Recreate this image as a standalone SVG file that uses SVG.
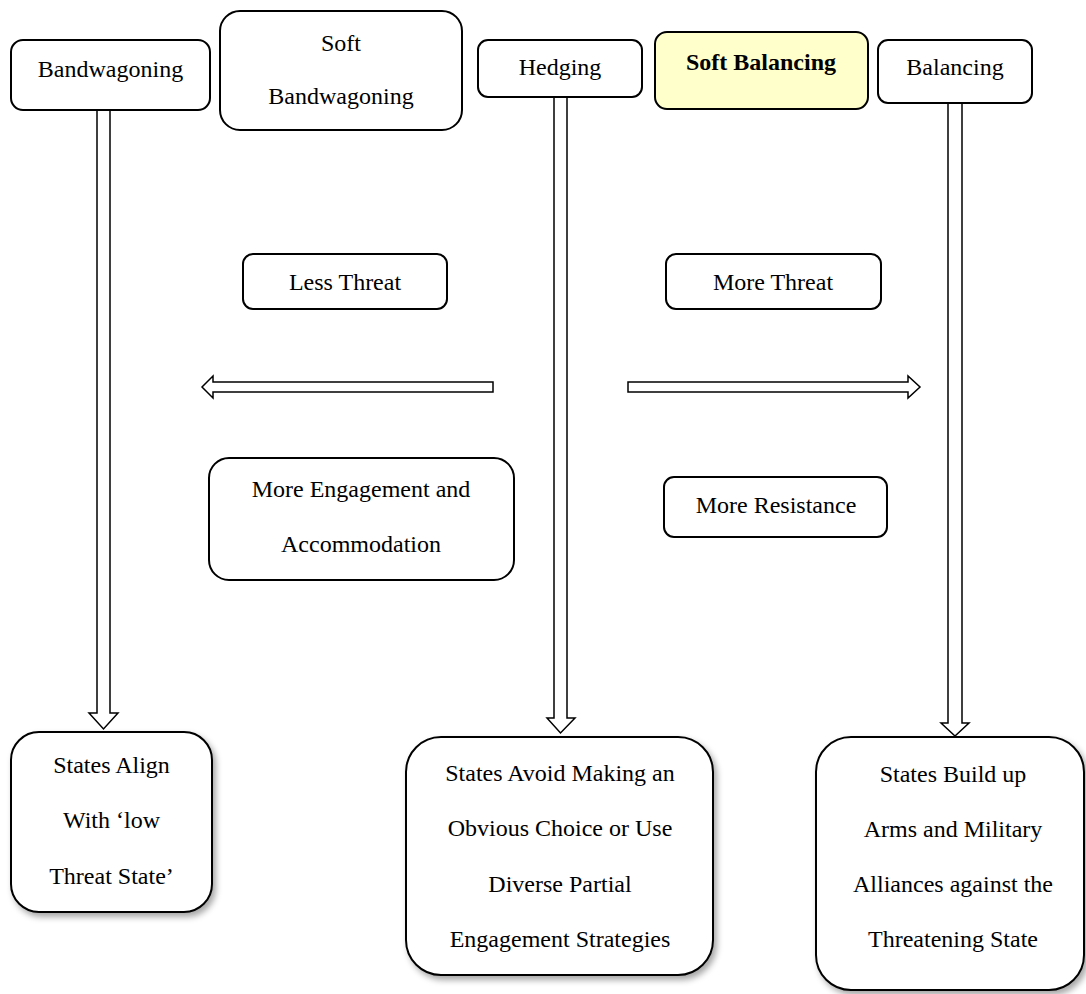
<svg xmlns="http://www.w3.org/2000/svg" width="1086" height="994" viewBox="0 0 1086 994">
<defs>
<style>
.box{fill:#ffffff;stroke:#000000;stroke-width:2}
.hl{fill:#ffffcc;stroke:#000000;stroke-width:2}
.arr{fill:#ffffff;stroke:#000000;stroke-width:1.5;stroke-linejoin:miter}
.t{font-family:"Liberation Serif","Times New Roman",serif;font-size:24px;fill:#000000;text-anchor:middle}
.b{font-weight:bold}
.sh{filter:url(#shadow)}
</style>
<filter id="shadow" x="-10%" y="-10%" width="130%" height="130%">
<feDropShadow dx="3" dy="4" stdDeviation="3" flood-color="#000000" flood-opacity="0.35"/>
</filter>
</defs>
<rect width="1086" height="994" fill="#ffffff"/>

<g id="connectors">
<polygon class="arr" points="97,110 97,713 89,713 103.5,729 118,713 110,713 110,110"/>
<polygon class="arr" points="554,97 554,718 547,718 560.5,733 575,718 567,718 567,97"/>
<polygon class="arr" points="948,103 948,723 941,723 955,736 969,723 962,723 962,103"/>
<polygon class="arr" points="493,382 213,382 213,376 202,387 213,398 213,392 493,392"/>
<polygon class="arr" points="628,382 908,382 908,376 920,387 908,398 908,392 628,392"/>
</g>

<g id="bandwagoning">
<rect class="box" x="11" y="40" width="199" height="70" rx="12"/>
<text class="t" x="110.5" y="77">Bandwagoning</text>
</g>
<g id="soft-bandwagoning">
<rect class="box" x="220" y="11" width="242" height="119" rx="20"/>
<text class="t" x="341" y="51">Soft</text>
<text class="t" x="341" y="104">Bandwagoning</text>
</g>
<g id="hedging">
<rect class="box" x="478" y="40" width="164" height="57" rx="10"/>
<text class="t" x="560" y="75">Hedging</text>
</g>
<g id="soft-balancing">
<rect class="hl" x="655" y="32" width="213" height="77" rx="12"/>
<text class="t b" x="761" y="70">Soft Balancing</text>
</g>
<g id="balancing">
<rect class="box" x="878" y="40" width="154" height="63" rx="10"/>
<text class="t" x="955" y="75">Balancing</text>
</g>

<g id="less-threat">
<rect class="box" x="243" y="254" width="204" height="55" rx="10"/>
<text class="t" x="345" y="290">Less Threat</text>
</g>
<g id="more-threat">
<rect class="box" x="666" y="254" width="215" height="55" rx="10"/>
<text class="t" x="773" y="290">More Threat</text>
</g>
<g id="more-engagement">
<rect class="box" x="209" y="458" width="305" height="122" rx="20"/>
<text class="t" x="361" y="497">More Engagement and</text>
<text class="t" x="361" y="552">Accommodation</text>
</g>
<g id="more-resistance">
<rect class="box" x="664" y="477" width="223" height="60" rx="10"/>
<text class="t" x="776" y="513">More Resistance</text>
</g>

<g id="states-align">
<rect class="box sh" x="11" y="732" width="201" height="180" rx="28"/>
<text class="t" x="111.5" y="773">States Align</text>
<text class="t" x="111.5" y="828">With ‘low</text>
<text class="t" x="111.5" y="884">Threat State’</text>
</g>
<g id="states-avoid">
<rect class="box sh" x="406" y="737" width="307" height="238" rx="35"/>
<text class="t" x="560" y="781">States Avoid Making an</text>
<text class="t" x="560" y="836">Obvious Choice or Use</text>
<text class="t" x="560" y="892">Diverse Partial</text>
<text class="t" x="560" y="947">Engagement Strategies</text>
</g>
<g id="states-build">
<rect class="box sh" x="816" y="737" width="268" height="253" rx="35"/>
<text class="t" x="953" y="782">States Build up</text>
<text class="t" x="953" y="837">Arms and Military</text>
<text class="t" x="953" y="892">Alliances against the</text>
<text class="t" x="953" y="947">Threatening State</text>
</g>
</svg>
